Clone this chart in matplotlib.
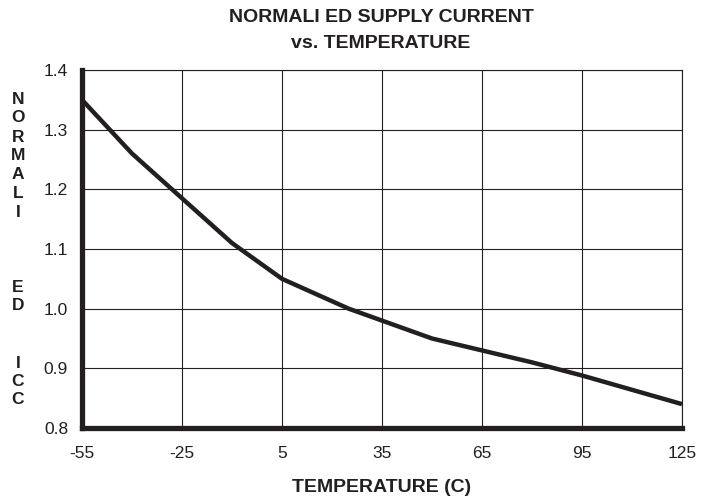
import matplotlib.pyplot as plt

plt.switch_backend('Agg')
plt.rcParams['font.family'] = ['Liberation Sans', 'DejaVu Sans']
plt.rcParams['axes.unicode_minus'] = False

# Данные
temperature = [-55, -40, -25, -10, 5, 15, 25, 35, 50, 65, 80, 95, 110, 125]
icc_norm = [1.35, 1.26, 1.185, 1.11, 1.05, 1.025, 1.0, 0.98, 0.95, 0.93, 0.91, 0.888, 0.864, 0.84]
x_ticks = [-55, -25, 5, 35, 65, 95, 125]
y_ticks = [0.8, 0.9, 1.0, 1.1, 1.2, 1.3, 1.4]

# буквы подписи оси Y и их вертикальные позиции (пиксели сверху)
ylabel_letters = ['N', 'O', 'R', 'M', 'A', 'L', 'I', 'E', 'D', 'I', 'C', 'C']
ylabel_rows = [99, 118, 137, 156, 174, 193, 212, 287, 305, 364, 382, 400]

ink = '#231f20'

fig = plt.figure(figsize=(7.01, 5.01), dpi=100)
ax = fig.add_axes([82 / 701, 1 - 428 / 501, 600 / 701, 358 / 501])

ax.plot(temperature, icc_norm, color=ink, lw=3.2, solid_capstyle='butt', zorder=3)

ax.set_xlim(-55, 125)
ax.set_ylim(0.8, 1.4)
ax.set_xticks(x_ticks)
ax.set_yticks(y_ticks)
ax.set_yticklabels([f'{v:.1f}' for v in y_ticks])
ax.tick_params(length=0, labelsize=12.5, colors=ink)
ax.tick_params(axis='x', pad=13)
ax.tick_params(axis='y', pad=10)
ax.grid(True, color=ink, lw=0.8)

for side in ['top', 'right']:
    ax.spines[side].set_linewidth(0.8)
    ax.spines[side].set_color(ink)
for side in ['left', 'bottom']:
    ax.spines[side].set_linewidth(3.8)
    ax.spines[side].set_color(ink)
    ax.spines[side].set_capstyle('projecting')

bold = dict(ha='center', va='center', fontweight='bold', color=ink)
fig.text(381 / 701, 1 - 18 / 501, 'NORMALI ED SUPPLY CURRENT', fontsize=14, **bold)
fig.text(381 / 701, 1 - 44 / 501, 'vs. TEMPERATURE', fontsize=14, **bold)
fig.text(382 / 701, 1 - 488 / 501, 'TEMPERATURE (C)', fontsize=14, **bold)

# вертикальная подпись оси Y буквами друг под другом
for letter, row in zip(ylabel_letters, ylabel_rows):
    fig.text(18 / 701, 1 - row / 501, letter, fontsize=12.5, **bold)

fig.savefig('out.png', dpi=100)
plt.close(fig)
